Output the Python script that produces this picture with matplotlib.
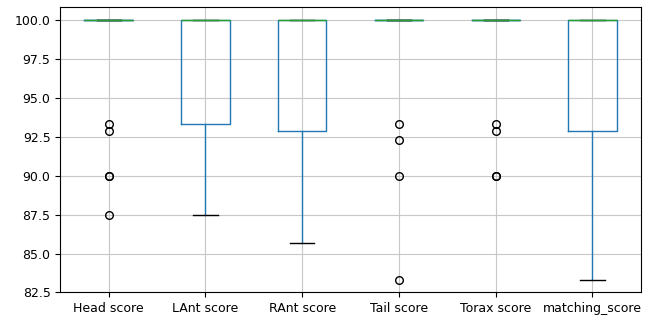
import matplotlib
matplotlib.use('Agg')
import matplotlib.pyplot as plt
import pandas as pd

# per-image scores
head_score = [87.5, 90.0, 90.0, 92.86, 93.33] + [100.0] * 25
lant_score = [87.5, 88.89, 90.0, 90.0, 91.67, 92.31, 92.86, 93.33, 93.33, 93.33] + [100.0] * 20
rant_score = [85.71, 87.5, 90.0, 90.0, 91.67, 92.31, 92.86, 92.86, 92.86, 92.86] + [100.0] * 20
tail_score = [83.33, 90.0, 92.31, 93.33] + [100.0] * 26
torax_score = [90.0, 90.0, 92.86, 93.33] + [100.0] * 26
matching_score = [83.33, 85.71, 87.5, 90.0, 90.91, 91.67, 92.31, 92.86, 92.86, 92.86] + [100.0] * 20

df = pd.DataFrame({
    'Head score': head_score,
    'LAnt score': lant_score,
    'RAnt score': rant_score,
    'Tail score': tail_score,
    'Torax score': torax_score,
    'matching_score': matching_score,
})

fig = plt.figure(figsize=(6.48, 3.2), dpi=100)
ax = fig.add_axes([0.093, 0.086, 0.896, 0.891])
df.boxplot(ax=ax, fontsize=9, flierprops=dict(markersize=5.5))
ax.grid(True, color='#c8c8c8')

plt.savefig('out.png', dpi=100)
